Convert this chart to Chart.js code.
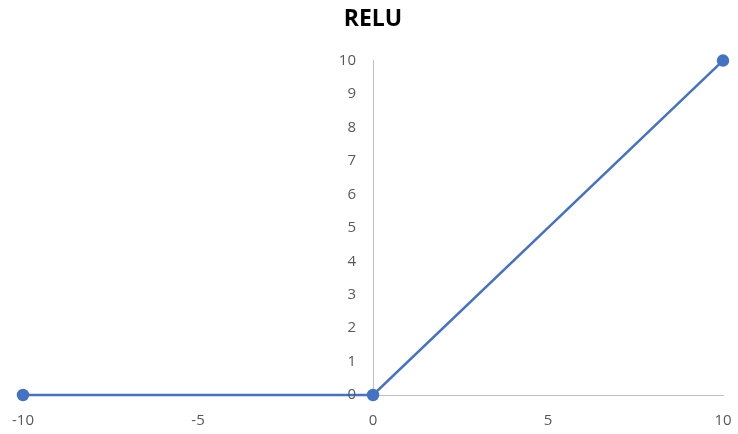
<!DOCTYPE html>
<html>
<head>
<meta charset="utf-8">
<script src="https://cdn.jsdelivr.net/npm/chart.js@4/dist/chart.umd.min.js"></script>
<style>
  html, body { margin: 0; padding: 0; background: #fff; }
  #wrap { width: 738px; height: 434px; }
</style>
</head>
<body>
<div id="wrap"><canvas id="c" width="738" height="434"></canvas></div>
<script>
// ReLU sample points
const xValues = [-10, 0, 10];
const yValues = [0, 0, 10];
const xTicks = [-10, -5, 0, 5, 10];
const yTicks = [0, 1, 2, 3, 4, 5, 6, 7, 8, 9, 10];

const points = xValues.map((x, i) => ({ x: x, y: yValues[i] }));
const fontFamily = "'Open Sans', 'Noto Sans', sans-serif";
const tickFont = { family: fontFamily, size: 15 };
const tickColor = '#595959';
const axisColor = '#bfbfbf';
const lineColor = '#4472C4';
const yLabelGap = 17;

// Labels for the y axis, which sits at x = 0 inside the plot: draw them to the
// left of the axis line, placed through the chart's own scales.
const yAxisLabels = {
  id: 'yAxisLabels',
  afterDraw(chart) {
    const { ctx, scales } = chart;
    const axisX = scales.x.getPixelForValue(0);
    ctx.save();
    ctx.fillStyle = tickColor;
    ctx.font = tickFont.size + 'px ' + fontFamily;
    ctx.textAlign = 'right';
    ctx.textBaseline = 'middle';
    yTicks.forEach(v => {
      ctx.fillText(String(v), axisX - yLabelGap, scales.y.getPixelForValue(v));
    });
    ctx.restore();
  }
};

new Chart(document.getElementById('c'), {
  type: 'scatter',
  data: {
    datasets: [{
      data: points,
      showLine: true,
      clip: false,
      borderColor: lineColor,
      backgroundColor: lineColor,
      borderWidth: 2.5,
      pointRadius: 5,
      pointHoverRadius: 5,
      tension: 0
    }]
  },
  plugins: [yAxisLabels],
  options: {
    responsive: false,
    animation: false,
    layout: { padding: { left: 23, right: 15, top: 0, bottom: 39 } },
    plugins: {
      legend: { display: false },
      tooltip: { enabled: false },
      title: {
        display: true,
        text: 'RELU',
        color: '#000',
        font: { family: fontFamily, size: 23, weight: 'bold', lineHeight: 1.2 },
        padding: { top: 6, bottom: 27 }
      }
    },
    scales: {
      x: {
        type: 'linear',
        position: { y: 0 },
        min: -10, max: 10,
        afterBuildTicks: s => { s.ticks = xTicks.map(v => ({ value: v })); },
        // invisible tick marks set the gap between the axis line and its labels
        grid: { display: true, drawOnChartArea: false, drawTicks: true, tickLength: 17, tickColor: 'rgba(0,0,0,0)' },
        border: { display: true, color: axisColor, width: 1 },
        ticks: { color: tickColor, font: tickFont, padding: 0, maxRotation: 0 }
      },
      y: {
        type: 'linear',
        position: { x: 0 },
        min: 0, max: 10,
        afterBuildTicks: s => { s.ticks = yTicks.map(v => ({ value: v })); },
        grid: { display: true, drawOnChartArea: false, drawTicks: false },
        border: { display: true, color: axisColor, width: 1 },
        ticks: { display: false }
      }
    }
  }
});
</script>
</body>
</html>
